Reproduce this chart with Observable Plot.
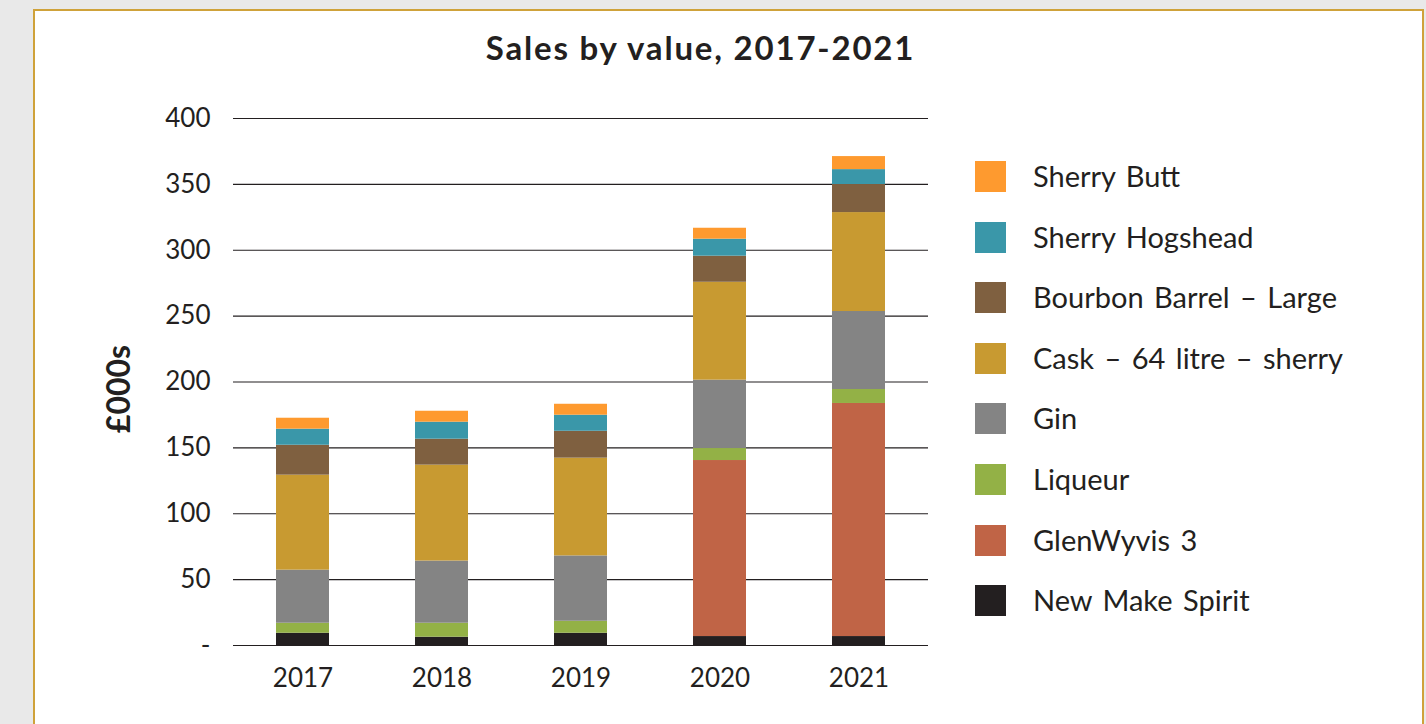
<!DOCTYPE html>
<html>
<head>
<meta charset="utf-8">
<script src="https://cdn.jsdelivr.net/npm/d3@7"></script>
<script src="https://cdn.jsdelivr.net/npm/@observablehq/plot@0.6"></script>
<style>
  html, body { margin: 0; padding: 0; background: #e9e9e9; width: 1426px; height: 724px; overflow: hidden; font-family: Lato, "Open Sans", sans-serif; }
  #panel { position: absolute; left: 33px; top: 9px; width: 1387px; height: 760px; background: #fff; border: 2px solid #cfa23a; }
  #title { position: absolute; left: 0; width: 1401px; top: 27px; text-align: center; font-weight: 700; font-size: 33px; letter-spacing: 1.8px; color: #231f20; }
  #ylabel { position: absolute; left: 117px; top: 389px; transform: translate(-50%, -50%) rotate(-90deg); font-weight: 700; font-size: 32px; color: #231f20; white-space: nowrap; }
  #chart { position: absolute; left: 0; top: 0; }
  #legend { position: absolute; left: 975px; top: 161px; }
  .item { position: absolute; left: 0; height: 31px; white-space: nowrap; }
  .sw { position: absolute; left: 0; top: 0; width: 31px; height: 31px; }
  .lbl { position: absolute; left: 58px; top: -3px; font-size: 29px; word-spacing: 3px; line-height: 36px; color: #231f20; }
</style>
</head>
<body>
<div id="panel"></div>
<div id="title">Sales by value, 2017-2021</div>
<div id="ylabel">£000s</div>
<div id="chart"></div>
<div id="legend"></div>
<script>
const years = ["2017", "2018", "2019", "2020", "2021"];
// series listed bottom-to-top of the stack
const seriesNames = ["New Make Spirit", "GlenWyvis 3", "Liqueur", "Gin", "Cask – 64 litre – sherry", "Bourbon Barrel – Large", "Sherry Hogshead", "Sherry Butt"];
const seriesColors = ["#231f20", "#c06446", "#93b146", "#848484", "#c89a31", "#7f6040", "#3a97a9", "#fe9a2f"];
const newMakeSpirit = [9.3, 6.3, 9.3, 6.8, 6.8];
const glenWyvis3    = [0, 0, 0, 133.6, 176.9];
const liqueur       = [7.6, 10.6, 9.1, 9.1, 10.6];
const gin           = [40.3, 47.2, 49.6, 51.9, 59.2];
const cask64Sherry  = [72.1, 72.8, 74.2, 74.3, 75.1];
const bourbonLarge  = [22.7, 19.7, 20.4, 19.8, 21.3];
const sherryHogshead= [12.2, 12.9, 12.2, 12.9, 11.3];
const sherryButt    = [8.3, 8.3, 8.3, 8.3, 9.9];
const yTicks = [0, 50, 100, 150, 200, 250, 300, 350, 400];
const legendOrder = ["Sherry Butt", "Sherry Hogshead", "Bourbon Barrel – Large", "Cask – 64 litre – sherry", "Gin", "Liqueur", "GlenWyvis 3", "New Make Spirit"];

const seriesValues = [newMakeSpirit, glenWyvis3, liqueur, gin, cask64Sherry, bourbonLarge, sherryHogshead, sherryButt];
const data = [];
seriesNames.forEach((s, i) => years.forEach((y, j) => data.push({year: y, series: s, value: seriesValues[i][j]})));

const chart = Plot.plot({
  width: 940,
  height: 720,
  marginLeft: 233,
  marginRight: 12,
  marginTop: 118,
  marginBottom: 75,
  style: {fontFamily: "Lato, 'Open Sans', sans-serif", fontSize: "26px", color: "#231f20", background: "transparent"},
  x: {domain: years, paddingInner: 0.62, paddingOuter: 0.31, label: null},
  y: {domain: [0, 400], label: null},
  color: {domain: seriesNames, range: seriesColors},
  marks: [
    Plot.ruleY(yTicks, {stroke: "#231f20", strokeWidth: 1.1}),
    Plot.barY(data, Plot.stackY({order: seriesNames}, {x: "year", y: "value", fill: "series", z: "series"})),
    Plot.axisY(yTicks, {tickSize: 0, tickPadding: 23, tickFormat: d => d === 0 ? "-" : String(d), label: null}),
    Plot.axisX({tickSize: 0, tickPadding: 23, label: null})
  ]
});
document.getElementById("chart").appendChild(chart);

const legend = document.getElementById("legend");
legendOrder.forEach((name, i) => {
  const item = document.createElement("div");
  item.className = "item";
  item.style.top = (i * 60.6) + "px";
  const sw = document.createElement("div");
  sw.className = "sw";
  sw.style.background = seriesColors[seriesNames.indexOf(name)];
  const lbl = document.createElement("div");
  lbl.className = "lbl";
  lbl.textContent = name;
  item.appendChild(sw);
  item.appendChild(lbl);
  legend.appendChild(item);
});
</script>
</body>
</html>
